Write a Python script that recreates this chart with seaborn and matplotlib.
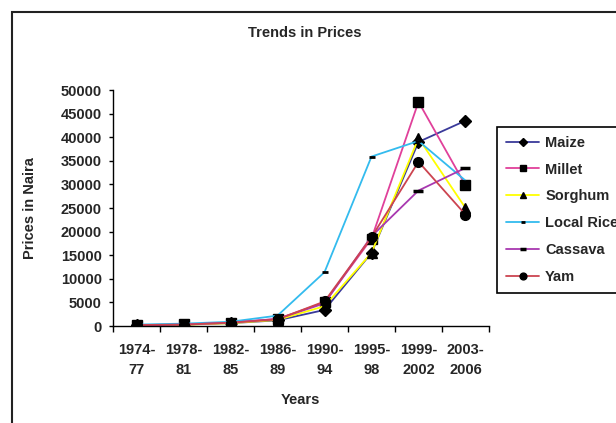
import matplotlib
matplotlib.use('Agg')
import matplotlib.pyplot as plt
import seaborn as sns
import pandas as pd

sns.set_style('white')
plt.rcParams['font.family'] = ['Liberation Sans', 'DejaVu Sans']

# Data
periods = ['1974-\n77', '1978-\n81', '1982-\n85', '1986-\n89', '1990-\n94',
           '1995-\n98', '1999-\n2002', '2003-\n2006']
maize = [200, 300, 600, 1200, 3400, 15500, 39000, 43500]
millet = [150, 350, 700, 1500, 5000, 18500, 47500, 29800]
sorghum = [100, 250, 600, 1300, 4200, 15500, 39800, 25000]
local_rice = [300, 500, 900, 2200, 11400, 35900, 39200, 30800]
cassava = [100, 300, 700, 1500, 4800, 19000, 28700, 33500]
yam = [200, 300, 700, 1400, 5200, 18800, 34800, 23600]

series = {
    'Maize': maize,
    'Millet': millet,
    'Sorghum': sorghum,
    'Local Rice': local_rice,
    'Cassava': cassava,
    'Yam': yam,
}

# line colour, marker, marker size, marker edge width
STYLES = {
    'Maize': ('#3a3a9a', 'D', 6, 1),
    'Millet': ('#e0409a', 's', 7, 1),
    'Sorghum': ('#ffff00', '^', 7, 1),
    'Local Rice': ('#33bbee', '_', 4, 2),
    'Cassava': ('#a838b0', '_', 7, 2.5),
    'Yam': ('#cc4450', 'o', 7, 1),
}

rows = []
for crop, vals in series.items():
    for i, v in enumerate(vals):
        rows.append({'crop': crop, 'pos': i, 'price': v})
df = pd.DataFrame(rows)

W, H = 616, 423
FS = 10.5
fig = plt.figure(figsize=(W / 100, H / 100), dpi=100)
ax = fig.add_axes([113 / W, 1 - 326 / H, 376 / W, 236 / H])

for crop in series:
    color, marker, ms, mew = STYLES[crop]
    sns.lineplot(data=df[df['crop'] == crop], x='pos', y='price', ax=ax,
                 color=color, marker=marker, markersize=ms,
                 markerfacecolor='black', markeredgecolor='black',
                 markeredgewidth=mew, linewidth=1.3, label=crop)

ax.set_xlim(-0.5, len(periods) - 0.5)
ax.set_ylim(0, 50000)
ax.set_yticks(range(0, 50001, 5000))
ax.set_xticks(range(len(periods)))
ax.set_xticklabels(periods)
ax.set_xticks([x - 0.5 for x in range(len(periods) + 1)], minor=True)
ax.tick_params(axis='x', which='major', length=0, pad=12, labelsize=FS)
ax.tick_params(axis='x', which='minor', length=4, width=1, direction='out',
               color='black', bottom=True)
ax.tick_params(axis='y', length=3, width=1, direction='out', color='black',
               left=True, pad=5, labelsize=FS)
for lab in ax.get_xticklabels():
    lab.set_linespacing(1.6)
    lab.set_fontweight('bold')
for lab in ax.get_yticklabels():
    lab.set_fontweight('bold')

for side in ['top', 'right']:
    ax.spines[side].set_visible(False)
for side in ['left', 'bottom']:
    ax.spines[side].set_color('black')
    ax.spines[side].set_linewidth(1)

ax.set_xlabel('Years', fontsize=FS, fontweight='bold')
ax.xaxis.set_label_coords((300 - 113) / 376, (326 - 393) / 236)
ax.set_ylabel('Prices in Naira', fontsize=FS, fontweight='bold')
ax.yaxis.set_label_coords((37 - 113) / 376, 0.5)

fig.text(305 / W, 1 - 33 / H, 'Trends in Prices', ha='center', va='center',
         fontsize=10.5, fontweight='bold')

leg = ax.legend(loc='upper left', bbox_to_anchor=(497 / W, 1 - 127 / H),
                bbox_transform=fig.transFigure, borderaxespad=0,
                fancybox=False, framealpha=1, edgecolor='black',
                prop={'size': FS, 'weight': 'bold'}, handlelength=2.3,
                handletextpad=0.4, labelspacing=0.88, borderpad=0.6,
                markerscale=0.7)
leg.get_frame().set_linewidth(1.2)

# outer chart-area border running off the right and bottom edges
fig.add_artist(plt.Rectangle((12 / W, -0.1), 1.2, 1 - 12 / H + 0.1,
                             transform=fig.transFigure, fill=False,
                             edgecolor='#222222', linewidth=1.5))

fig.savefig('out.png', dpi=100)
